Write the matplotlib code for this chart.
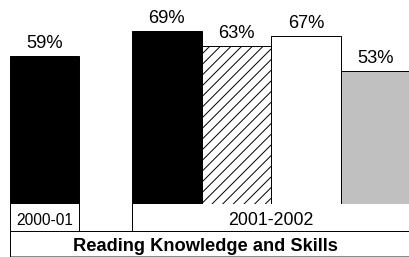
import matplotlib
matplotlib.use("Agg")
import matplotlib.pyplot as plt
from matplotlib import transforms

plt.rcParams["font.family"] = ["Liberation Sans", "DejaVu Sans"]
plt.rcParams["hatch.linewidth"] = 1.1

# data
values = [59, 69, 63, 67, 53]
labels = ["59%", "69%", "63%", "67%", "53%"]
positions = [0, 1.76, 2.76, 3.76, 4.76]
faces = ["black", "black", "white", "white", "#c0c0c0"]
hatches = [None, None, "//", None, None]
year_labels = ["2000-01", "2001-2002"]
footer = "Reading Knowledge and Skills"

DPI = 64
W, H = 409, 257

fig = plt.figure(figsize=(W / DPI, H / DPI), dpi=DPI)
# axes placed in pixels: left edge 9.5, bottom of bars at y=203.5
left, bottom_px = 9.5, 203.5
ax = fig.add_axes([left / W, (H - bottom_px) / H, (W - left) / W, bottom_px / H])

ax.bar(positions, values, width=1.0, color=faces, edgecolor="black",
       linewidth=1.1, hatch=hatches, zorder=2)

for x, v, lab in zip(positions, values, labels):
    ax.annotate(lab, (x, v), xytext=(0, 8.5), textcoords="offset points",
                ha="center", va="baseline", fontsize=20.5)

ax.set_xlim(-0.5, -0.5 + (W - left) / 69.6)
ax.set_ylim(0, bottom_px / 2.5)
ax.axis("off")

# table under the bars (x in data, y in axes fraction)
tr = transforms.blended_transform_factory(ax.transData, ax.transAxes)
row1 = -(231 - bottom_px) / bottom_px
row2 = -(256 - bottom_px) / bottom_px
xl = -0.5
xr = ax.get_xlim()[1]
kw = dict(transform=tr, color="black", lw=1.1, clip_on=False)

ax.plot([xl, xr + 0.1], [row1, row1], **kw)
ax.plot([xl, xr + 0.1], [row2, row2], transform=tr, color="#888888", lw=1.1,
        clip_on=False)
ax.plot([xl, xl], [0, row2], **kw)
ax.plot([0.5, 0.5], [0, row1], **kw)
cell2 = positions[1] - 0.5
ax.plot([cell2, cell2], [0, row1], **kw)

base1 = -(225 - bottom_px) / bottom_px
base2 = -(250.7 - bottom_px) / bottom_px
ax.text(0, base1, year_labels[0], transform=tr, ha="center", va="baseline",
        fontsize=17.5)
ax.text(0.5 * (cell2 + xr), base1, year_labels[1], transform=tr,
        ha="center", va="baseline", fontsize=20)
ax.text(0.5 * (xl + xr) - 0.05, base2, footer, transform=tr, ha="center",
        va="baseline", fontsize=20.5, fontweight="bold")

fig.savefig("out.png", dpi=DPI)
plt.close(fig)
